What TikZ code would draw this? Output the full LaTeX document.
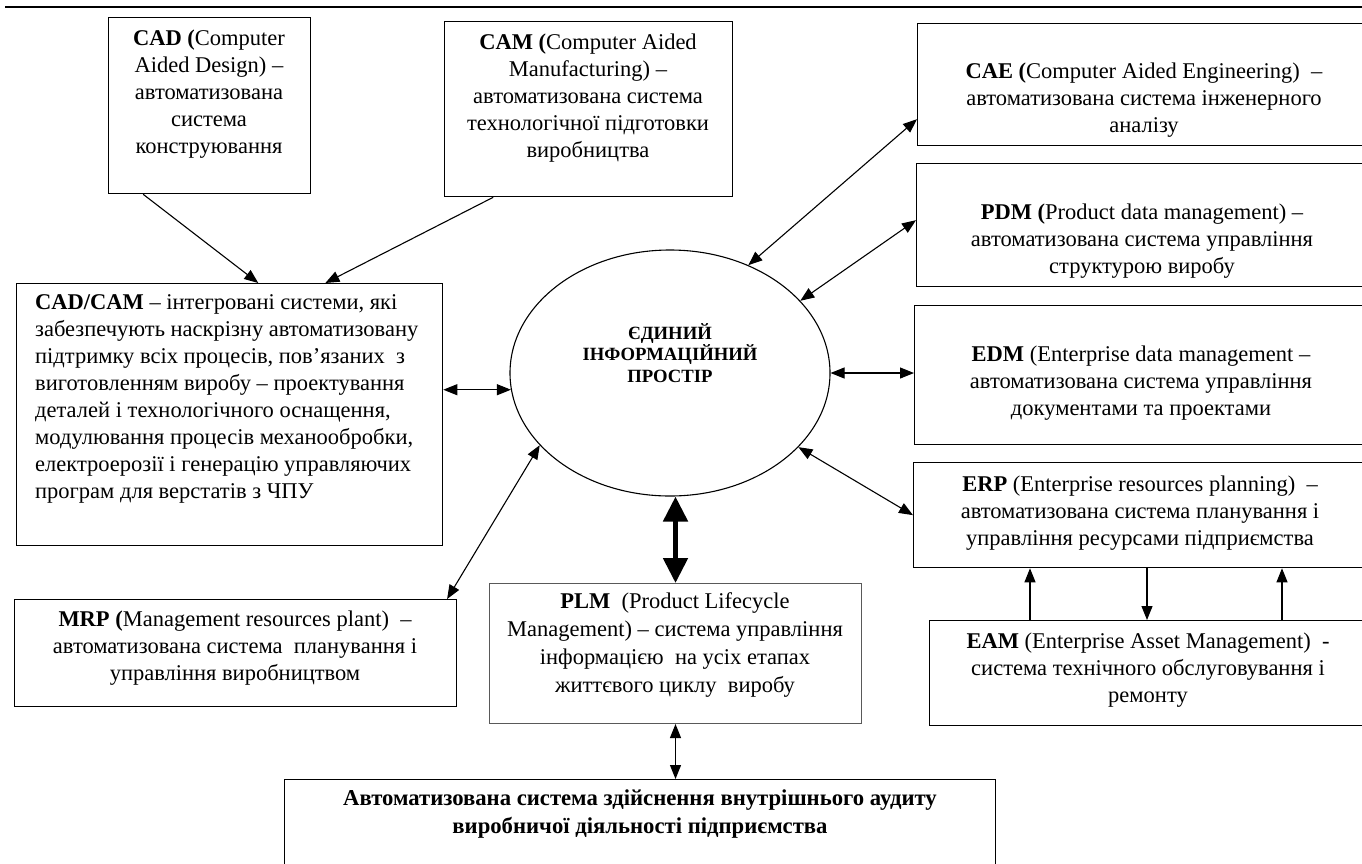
\documentclass[tikz,border=0pt]{standalone}
\usepackage{fontspec}
\setmainfont{Liberation Serif}
\usetikzlibrary{arrows.meta,calc,shapes.geometric}
\begin{document}
\begin{tikzpicture}[x=1pt,y=-1pt,
  box/.style={draw, line width=1.3pt, inner sep=0pt, anchor=north west},
  txt/.style={align=center, inner sep=0pt, font=\fontsize{22.5}{27}\selectfont},
  link/.style={line width=1.1pt, {Triangle[length=14pt,width=11pt]}-{Triangle[length=14pt,width=11pt]}},
  tip/.style={line width=1.1pt, -{Triangle[length=14pt,width=11pt]}},
  biglink/.style={line width=5pt, {Triangle[length=25pt,width=24pt]}-{Triangle[length=25pt,width=24pt]}},
]
\useasboundingbox (0,0) rectangle (1362,863);
\fill[white] (0,0) rectangle (1362,863);

% heading rule
\draw[line width=2.5pt] (5,7) -- (1362,7);

% boxes
\node[box, minimum width=202pt, minimum height=176pt] (cad)    at (108,17)  {};
\node[box, minimum width=288pt, minimum height=175pt] (cam)    at (444,21)  {};
\node[box, minimum width=460pt, minimum height=122pt] (cae)    at (917,23)  {};
\node[box, minimum width=460pt, minimum height=123pt] (pdm)    at (916,163) {};
\node[box, minimum width=460pt, minimum height=139pt] (edm)    at (914,305) {};
\node[box, minimum width=460pt, minimum height=105pt] (erp)    at (913,462) {};
\node[box, minimum width=450pt, minimum height=105pt] (eam)    at (929,620) {};
\node[box, minimum width=426pt, minimum height=262pt] (cadcam) at (16,283)  {};
\node[box, minimum width=442pt, minimum height=107pt] (mrp)    at (14,599)  {};
\node[box, draw=black!65, line width=1pt, minimum width=372pt, minimum height=140pt] (plm) at (489,583) {};
\node[box, minimum width=711pt, minimum height=100pt] (audit)  at (284,779) {};
\node[draw, ellipse, line width=1.1pt, inner sep=0pt, minimum width=320pt, minimum height=246pt] (ell) at (670,373) {};

% texts
\node[txt] (cadT) at (209,94) {\textbf{CAD (}Computer\\Aided Design) –\\автоматизована\\система\\конструювання};
\node[txt] (camT) at (588,98) {\textbf{CAM (}Computer Aided\\Manufacturing) –\\автоматизована система\\технологічної підготовки\\виробництва};
\node[txt] (caeT) at (1144,100) {\textbf{CAE (}Computer Aided Engineering)~ –\\автоматизована система інженерного\\аналізу};
\node[txt] (pdmT) at (1142,241) {\textbf{PDM (}Product data management) –\\автоматизована система управління\\структурою виробу};
\node[txt] (edmT) at (1141,383) {\textbf{EDM} (Enterprise data management –\\автоматизована система управління\\документами та проектами};
\node[txt] (erpT) at (1140,513) {\textbf{ERP} (Enterprise resources planning)~ –\\автоматизована система планування і\\управління ресурсами підприємства};
\node[txt] (eamT) at (1148,670) {\textbf{EAM} (Enterprise Asset Management)~ -\\система технічного обслуговування і\\ремонту};
\node[txt, align=left, anchor=west] (cadcamT) at (35,399) {\textbf{CAD/CAM} – інтегровані системи, які\\забезпечують наскрізну автоматизовану\\підтримку всіх процесів, пов’язаних~ з\\виготовленням виробу – проектування\\деталей і технологічного оснащення,\\модулювання процесів механообробки,\\електроерозії і генерацію управляючих\\програм для верстатів з ЧПУ};
\node[txt] (mrpT) at (235,648) {\textbf{MRP (}Management resources plant)~ –\\автоматизована система~ планування і\\управління виробництвом};
\node[txt, font=\fontsize{22.5}{28}\selectfont] (plmT) at (675,645) {\textbf{PLM}~ (Product Lifecycle\\Management) – система управління\\інформацією~ на усіх етапах\\життєвого циклу~ виробу};
\node[txt, font=\bfseries\fontsize{22.7}{28}\selectfont] (auditT) at (640,814) {Автоматизована система здійснення внутрішнього аудиту\\виробничої діяльності підприємства};
\node[txt, font=\bfseries\fontsize{18.7}{21.5}\selectfont] (ellT) at (670,353) {ЄДИНИЙ\\ІНФОРМАЦІЙНИЙ\\ПРОСТІР};

% connectors
\draw[tip] ($(cad.south west)!.173!(cad.south east)$) -- ($(cadcam.north west)!.567!(cadcam.north east)$);
\draw[tip] ($(cam.south west)!.17!(cam.south east)$) -- ($(cadcam.north west)!.724!(cadcam.north east)$);
\draw[link] (cadcam.east |- ell.186) -- (ell.186);
\draw[link] (ell.54) -- ($(cae.north west)!.78!(cae.south west)$);
\draw[link] (ell.29) -- ($(pdm.north west)!.46!(pdm.south west)$);
\draw[link] (ell.east) -- (ell.east -| edm.west);
\draw[link] (ell.330) -- (erp.west);
\draw[link] (ell.209) -- ($(mrp.north west)!.977!(mrp.north east)$);
\draw[biglink] (ell.south -| plm.north) -- (plm.north);
\draw[link] (plm.south) -- (audit.north -| plm.south);

% links between ERP and EAM
\coordinate (c1) at (1030,0);
\coordinate (c2) at (1147,0);
\coordinate (c3) at (1282,0);
\draw[tip] (eam.north -| c1) -- (erp.south -| c1);
\draw[tip] (erp.south -| c2) -- (eam.north -| c2);
\draw[tip] (eam.north -| c3) -- (erp.south -| c3);
\end{tikzpicture}
\end{document}
